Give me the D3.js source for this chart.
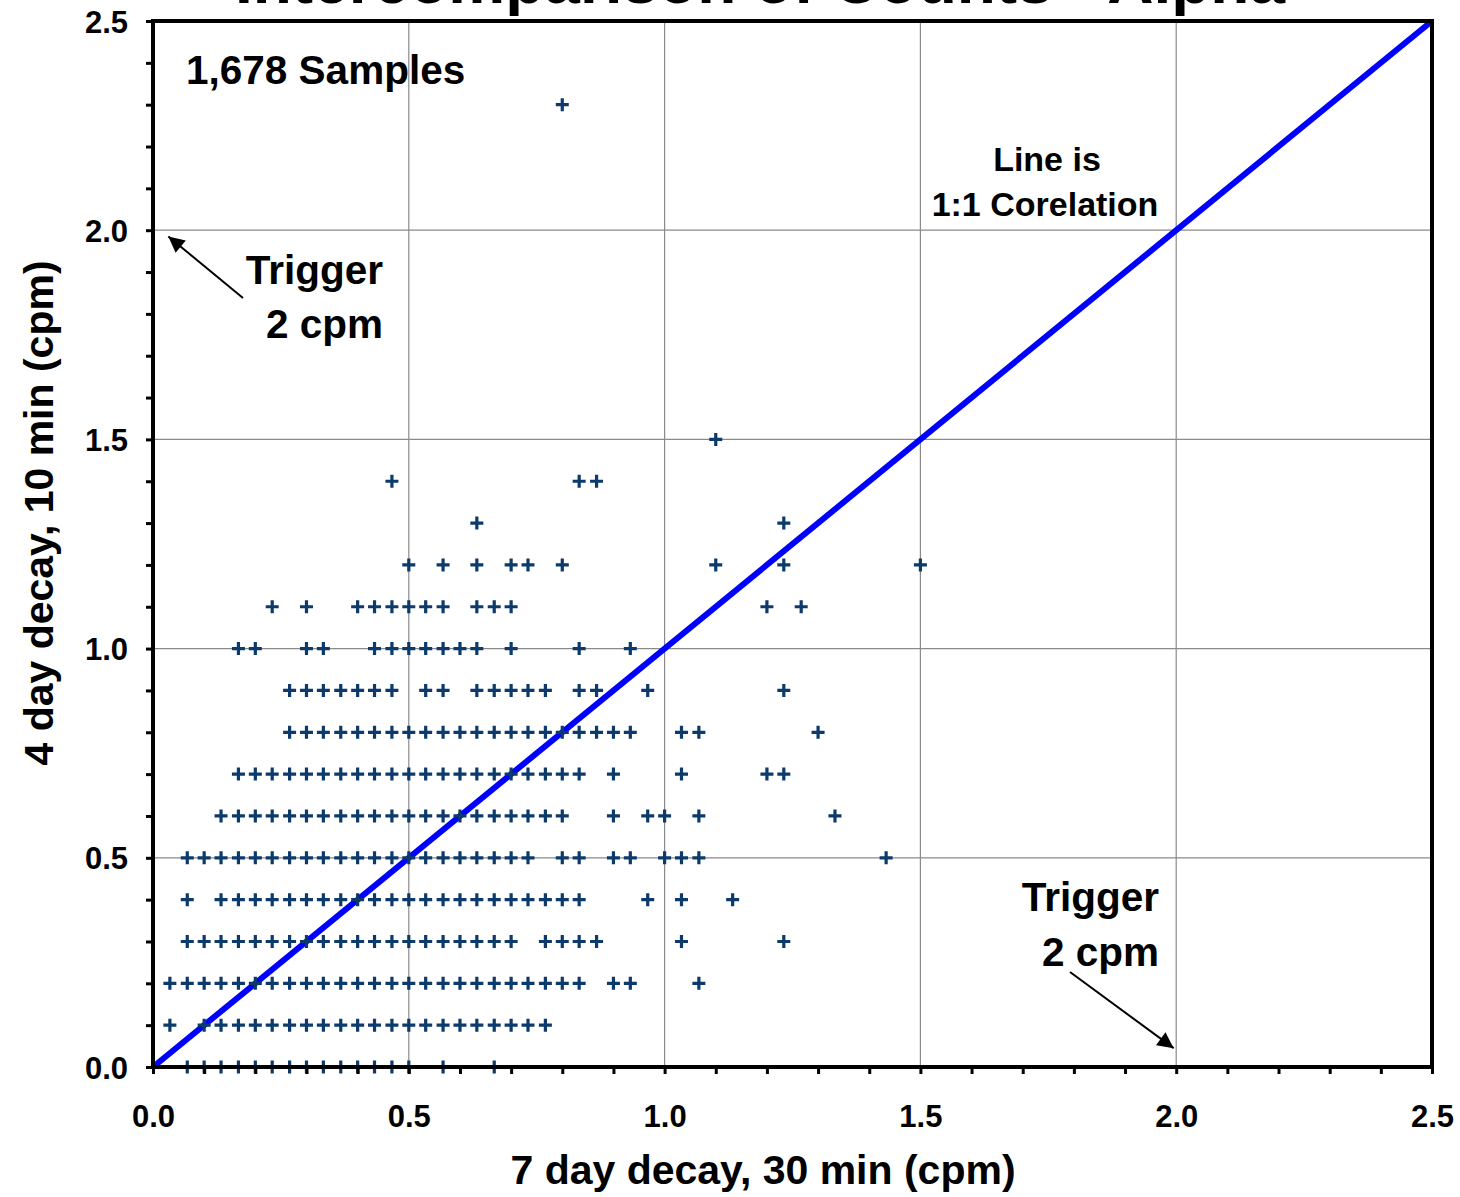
<!DOCTYPE html>
<html>
<head>
<meta charset="utf-8">
<script src="https://cdn.jsdelivr.net/npm/d3@7"></script>
<style>
  html, body { margin: 0; padding: 0; background: #fff; }
  svg { display: block; }
  text { font-family: "Liberation Sans", Arial, sans-serif; font-weight: bold; fill: #000; }
</style>
</head>
<body>
<svg id="chart" width="1460" height="1197"></svg>
<script>
// ---- Data (x = 7 day decay, 30 min cpm; one array per 4-day cpm level) ----
const chartTitle = "Intercomparison of Counts - Alpha";
const xTitle = "7 day decay, 30 min (cpm)";
const yTitle = "4 day decay, 10 min (cpm)";
const sampleNote = "1,678 Samples";

const xTickLabels = ["0.0", "0.5", "1.0", "1.5", "2.0", "2.5"];
const yTickLabels = ["0.0", "0.5", "1.0", "1.5", "2.0", "2.5"];

const yLevels = [0.0, 0.1, 0.2, 0.3, 0.4, 0.5, 0.6, 0.7, 0.8, 0.9, 1.0, 1.1, 1.2, 1.3, 1.4, 1.5, 2.3];

const x_y00 = [0.067,0.100,0.133,0.167,0.200,0.233,0.267,0.300,0.333,0.367,0.400,0.433,0.467,0.500,0.567,0.667];
const x_y01 = [0.033,0.100,0.133,0.167,0.200,0.233,0.267,0.300,0.333,0.367,0.400,0.433,0.467,0.500,0.533,0.567,0.600,0.633,0.667,0.700,0.733,0.767];
const x_y02 = [0.033,0.067,0.100,0.133,0.167,0.200,0.233,0.267,0.300,0.333,0.367,0.400,0.433,0.467,0.500,0.533,0.567,0.600,0.633,0.667,0.700,0.733,0.767,0.800,0.833,0.900,0.933,1.067];
const x_y03 = [0.067,0.100,0.133,0.167,0.200,0.233,0.267,0.300,0.333,0.367,0.400,0.433,0.467,0.500,0.533,0.567,0.600,0.633,0.667,0.700,0.767,0.800,0.833,0.867,1.033,1.233];
const x_y04 = [0.067,0.133,0.167,0.200,0.233,0.267,0.300,0.333,0.367,0.400,0.433,0.467,0.500,0.533,0.567,0.600,0.633,0.667,0.700,0.733,0.767,0.800,0.833,0.967,1.033,1.133];
const x_y05 = [0.067,0.100,0.133,0.167,0.200,0.233,0.267,0.300,0.333,0.367,0.400,0.433,0.467,0.500,0.533,0.567,0.600,0.633,0.667,0.700,0.733,0.800,0.833,0.900,0.933,1.000,1.033,1.067,1.433];
const x_y06 = [0.133,0.167,0.200,0.233,0.267,0.300,0.333,0.367,0.400,0.433,0.467,0.500,0.533,0.567,0.600,0.633,0.667,0.700,0.733,0.767,0.800,0.900,0.967,1.000,1.067,1.333];
const x_y07 = [0.167,0.200,0.233,0.267,0.300,0.333,0.367,0.400,0.433,0.467,0.500,0.533,0.567,0.600,0.633,0.667,0.700,0.733,0.767,0.800,0.833,0.900,1.033,1.200,1.233];
const x_y08 = [0.267,0.300,0.333,0.367,0.400,0.433,0.467,0.500,0.533,0.567,0.600,0.633,0.667,0.700,0.733,0.767,0.800,0.833,0.867,0.900,0.933,1.033,1.067,1.300];
const x_y09 = [0.267,0.300,0.333,0.367,0.400,0.433,0.467,0.533,0.567,0.633,0.667,0.700,0.733,0.767,0.833,0.867,0.967,1.233];
const x_y10 = [0.167,0.200,0.300,0.333,0.433,0.467,0.500,0.533,0.567,0.600,0.633,0.700,0.833,0.933];
const x_y11 = [0.233,0.300,0.400,0.433,0.467,0.500,0.533,0.567,0.633,0.667,0.700,1.200,1.267];
const x_y12 = [0.500,0.567,0.633,0.700,0.733,0.800,1.100,1.233,1.500];
const x_y13 = [0.633,1.233];
const x_y14 = [0.467,0.833,0.867];
const x_y15 = [1.100];
const x_y23 = [0.800];

const xRows = [x_y00,x_y01,x_y02,x_y03,x_y04,x_y05,x_y06,x_y07,x_y08,x_y09,x_y10,x_y11,x_y12,x_y13,x_y14,x_y15,x_y23];

const oneToOne = [[0, 0], [2.5, 2.5]];
const gridValues = [0.5, 1.0, 1.5, 2.0];

// ---- Build points ----
const points = [];
yLevels.forEach((yv, i) => xRows[i].forEach(xv => points.push({x: xv, y: yv})));

// ---- Drawing ----
const svg = d3.select("#chart");
const pL = 153, pR = 1432, pT = 21, pB = 1067;
const x = d3.scaleLinear().domain([0, 2.5]).range([pL, pR]);
const y = d3.scaleLinear().domain([0, 2.5]).range([pB, pT]);

const minorTicks = d3.range(0, 26).map(i => i / 10);

// Title (partly clipped at the top of the image, as in the reference)
svg.append("text")
  .attr("x", 760).attr("y", 3)
  .attr("text-anchor", "middle")
  .style("font-size", "64px")
  .text(chartTitle);

// Gridlines
const grid = svg.append("g");
grid.selectAll(".gx").data(gridValues).join("line")
  .attr("x1", d => x(d)).attr("x2", d => x(d))
  .attr("y1", pT).attr("y2", pB)
  .attr("stroke", "#8a8a8a").attr("stroke-width", 1.2);
grid.selectAll(".gy").data(gridValues).join("line")
  .attr("y1", d => y(d)).attr("y2", d => y(d))
  .attr("x1", pL).attr("x2", pR)
  .attr("stroke", "#8a8a8a").attr("stroke-width", 1.2);

// 1:1 line
svg.append("path")
  .datum(oneToOne)
  .attr("d", d3.line().x(d => x(d[0])).y(d => y(d[1])))
  .attr("stroke", "#0000ff").attr("stroke-width", 6).attr("fill", "none")
  .attr("stroke-linecap", "butt");

// Points ("+" markers)
svg.append("g").selectAll("path").data(points).join("path")
  .attr("transform", d => `translate(${x(d.x)},${y(d.y)})`)
  .attr("d", "M-6.5,0H6.5M0,-6.5V6.5")
  .attr("stroke", "#0b3a6b").attr("stroke-width", 3.2).attr("fill", "none");

// Axes
const fmt = d => {
  const i = Math.round(d * 10);
  return i % 5 === 0 ? xTickLabels[i / 5] : "";
};
const fmtY = d => {
  const i = Math.round(d * 10);
  return i % 5 === 0 ? yTickLabels[i / 5] : "";
};

const xAxis = svg.append("g")
  .attr("transform", `translate(0,${pB})`)
  .call(d3.axisBottom(x).tickValues(minorTicks).tickFormat(fmt).tickSizeInner(7).tickSizeOuter(0).tickPadding(31));
const yAxis = svg.append("g")
  .attr("transform", `translate(${pL},0)`)
  .call(d3.axisLeft(y).tickValues(minorTicks).tickFormat(fmtY).tickSizeInner(7).tickSizeOuter(0).tickPadding(18));

[xAxis, yAxis].forEach(a => {
  a.select(".domain").remove();
  a.selectAll(".tick line").attr("stroke", "#000").attr("stroke-width", 3);
  a.selectAll(".tick text")
    .style("font-family", '"Liberation Sans", Arial, sans-serif')
    .style("font-weight", "bold")
    .style("font-size", "31px")
    .attr("fill", "#000");
});
yAxis.selectAll(".tick text").attr("dy", "0.36em");

// Frame
svg.append("rect")
  .attr("x", pL).attr("y", pT)
  .attr("width", pR - pL).attr("height", pB - pT)
  .attr("fill", "none").attr("stroke", "#000").attr("stroke-width", 4);

// Axis titles
svg.append("text")
  .attr("x", 763).attr("y", 1184)
  .attr("text-anchor", "middle")
  .style("font-size", "41px")
  .text(xTitle);
svg.append("text")
  .attr("transform", "translate(53,513) rotate(-90)")
  .attr("text-anchor", "middle")
  .style("font-size", "41px")
  .text(yTitle);

// Annotations
svg.append("text").attr("x", 186).attr("y", 84).style("font-size", "40.5px").text(sampleNote);

svg.append("text").attr("x", 1047).attr("y", 171).attr("text-anchor", "middle").style("font-size", "34px").text("Line is");
svg.append("text").attr("x", 1045).attr("y", 216).attr("text-anchor", "middle").style("font-size", "34px").text("1:1 Corelation");

svg.append("text").attr("x", 383).attr("y", 284).attr("text-anchor", "end").style("font-size", "40.5px").text("Trigger");
svg.append("text").attr("x", 383).attr("y", 338).attr("text-anchor", "end").style("font-size", "40.5px").text("2 cpm");

svg.append("text").attr("x", 1159).attr("y", 911).attr("text-anchor", "end").style("font-size", "40.5px").text("Trigger");
svg.append("text").attr("x", 1159).attr("y", 966).attr("text-anchor", "end").style("font-size", "40.5px").text("2 cpm");

// Arrows
const defs = svg.append("defs");
defs.append("marker")
  .attr("id", "ah").attr("viewBox", "0 0 10 10")
  .attr("refX", 10).attr("refY", 5)
  .attr("markerWidth", 10).attr("markerHeight", 8)
  .attr("markerUnits", "strokeWidth")
  .attr("orient", "auto")
  .append("path").attr("d", "M0,0L10,5L0,10z").attr("fill", "#000");

const arrows = [
  {from: [243, 298], to: [x(0.03), y(1.985)]},
  {from: [1070, 972], to: [x(1.995), y(0.045)]}
];
svg.append("g").selectAll("line").data(arrows).join("line")
  .attr("x1", d => d.from[0]).attr("y1", d => d.from[1])
  .attr("x2", d => d.to[0]).attr("y2", d => d.to[1])
  .attr("stroke", "#000").attr("stroke-width", 2)
  .attr("marker-end", "url(#ah)");
</script>
</body>
</html>
